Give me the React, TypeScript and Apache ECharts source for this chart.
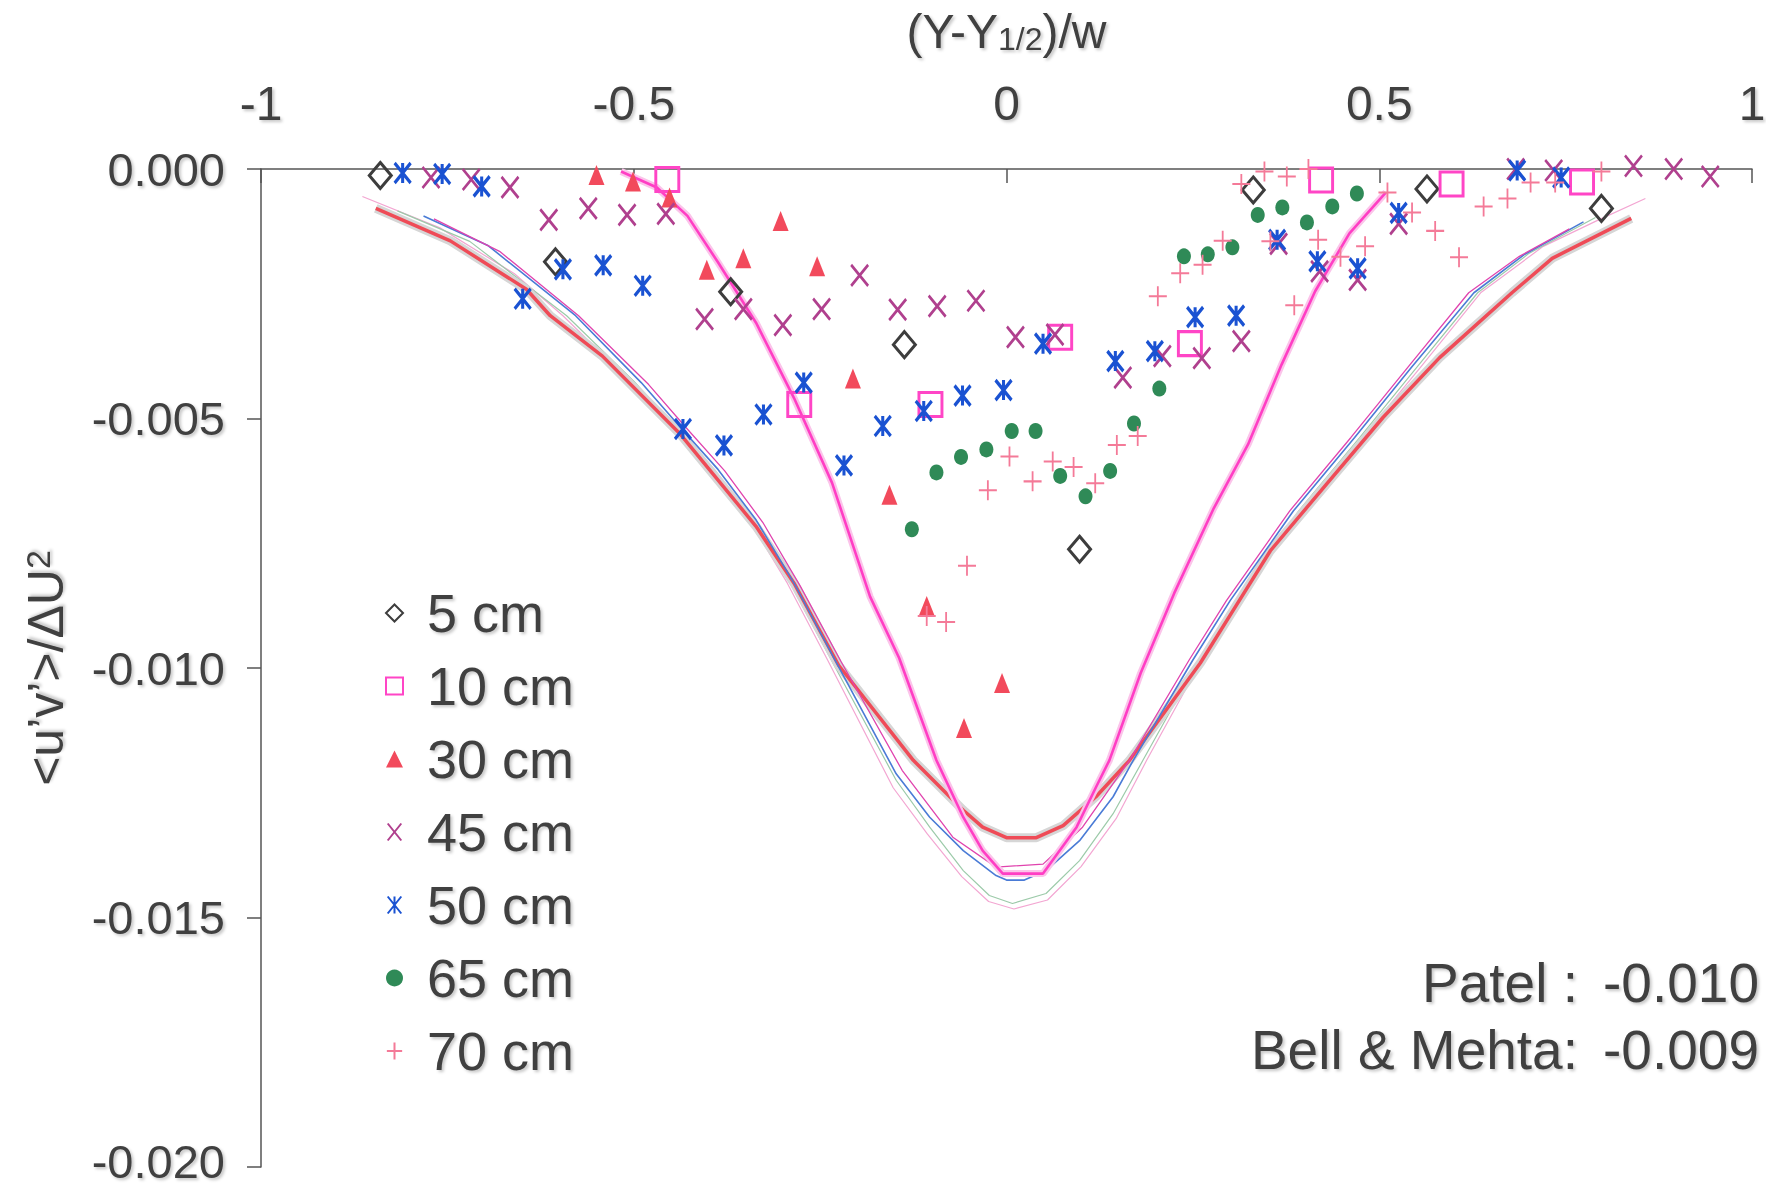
import React, { useEffect, useRef } from "react";
import * as echarts from "echarts";

const FONT = '"Liberation Sans", Arial, Helvetica, sans-serif';
const TEXT = "#414141";

// axis scales
const X_MIN = -1;
const X_MAX = 1;
const X_STEP = 0.5;
const Y_MIN = -0.02;
const Y_MAX = 0;
const Y_STEP = 0.005;

const LEGEND_NAMES = ["5 cm", "10 cm", "30 cm", "45 cm", "50 cm", "65 cm", "70 cm"];

// ---- measured points ----
const X_5 = [-0.84, -0.605, -0.37, -0.137, 0.098, 0.331, 0.564, 0.798];
const Y_5 = [-0.00013, -0.00186, -0.00246, -0.00352, -0.00762, -0.00042, -0.0004, -0.00079];

const X_10 = [-0.455, -0.278, -0.102, 0.072, 0.246, 0.422, 0.597, 0.772];
const Y_10 = [-0.00021, -0.00472, -0.00472, -0.00337, -0.0035, -0.00022, -0.0003, -0.00026];

const X_30 = [-0.55, -0.501, -0.452, -0.402, -0.353, -0.303, -0.254, -0.206, -0.157, -0.107, -0.057, -0.006];
const Y_30 = [-0.00012, -0.00025, -0.00057, -0.00202, -0.00179, -0.00104, -0.00195, -0.0042, -0.00653, -0.00876, -0.0112, -0.0103];

const X_45 = [-0.772, -0.718, -0.666, -0.614, -0.561, -0.509, -0.457, -0.405, -0.353, -0.3, -0.248, -0.197,
  -0.146, -0.093, -0.041, 0.012, 0.065, 0.156, 0.209, 0.262, 0.315, 0.365, 0.42, 0.471, 0.526, 0.683, 0.734,
  0.841, 0.895, 0.944];
const Y_45 = [-0.00017, -0.00021, -0.00037, -0.00102, -0.00079, -0.00092, -0.0009, -0.00301, -0.00281, -0.00313,
  -0.00281, -0.00213, -0.00282, -0.00275, -0.00264, -0.00337, -0.00332, -0.00418, -0.00375, -0.00379, -0.00345,
  -0.0015, -0.00205, -0.00222, -0.0011, 0.0, -0.00003, 0.00006, 0.0, -0.00015];

const X_50 = [-0.81, -0.757, -0.704, -0.649, -0.595, -0.541, -0.488, -0.434, -0.379, -0.326, -0.272, -0.218,
  -0.166, -0.111, -0.059, -0.004, 0.049, 0.146, 0.199, 0.253, 0.308, 0.363, 0.417, 0.471, 0.526, 0.685, 0.744];
const Y_50 = [-0.00008, -0.0001, -0.00035, -0.0026, -0.00201, -0.00193, -0.00234, -0.00521, -0.00554, -0.00492,
  -0.00428, -0.00594, -0.00515, -0.00485, -0.00454, -0.00443, -0.0035, -0.00385, -0.00365, -0.00297, -0.00294,
  -0.00142, -0.00185, -0.00199, -0.00088, -0.00003, -0.00017];

const X_65 = [-0.127, -0.094, -0.061, -0.027, 0.007, 0.039, 0.072, 0.106, 0.139, 0.171, 0.205, 0.238, 0.27,
  0.303, 0.337, 0.37, 0.403, 0.437, 0.47];
const Y_65 = [-0.00722, -0.00608, -0.00577, -0.00562, -0.00525, -0.00525, -0.00615, -0.00656, -0.00605, -0.0051,
  -0.0044, -0.00175, -0.00171, -0.00157, -0.00092, -0.00077, -0.00107, -0.00075, -0.00049];

const X_70 = [-0.107, -0.081, -0.053, -0.025, 0.004, 0.035, 0.062, 0.09, 0.119, 0.148, 0.176, 0.203, 0.233,
  0.263, 0.29, 0.315, 0.346, 0.354, 0.376, 0.386, 0.405, 0.418, 0.448, 0.481, 0.511, 0.544, 0.575, 0.607, 0.64,
  0.672, 0.703, 0.736, 0.798];
const Y_70 = [-0.00896, -0.00908, -0.00795, -0.00644, -0.00576, -0.00626, -0.00586, -0.00597, -0.0063, -0.00553,
  -0.00535, -0.00255, -0.00209, -0.00192, -0.00144, -0.0003, -0.00005, -0.00145, -0.00015, -0.00273, 0.0,
  -0.00142, -0.00176, -0.00155, -0.00047, -0.00087, -0.00124, -0.00177, -0.00075, -0.00059, -0.00027, -0.00027,
  -0.00005];

// ---- model curves ----
const NARROW_X = [-0.517, -0.469, -0.428, -0.387, -0.336, -0.285, -0.234, -0.183, -0.144, -0.094, -0.058, -0.032,
  -0.005, 0.049, 0.094, 0.12, 0.138, 0.18, 0.225, 0.278, 0.324, 0.369, 0.414, 0.46, 0.509];
const NARROW_Y = [-0.00005, -0.00037, -0.00094, -0.00187, -0.00308, -0.00459, -0.00629, -0.00857, -0.0098,
  -0.01185, -0.01299, -0.01366, -0.01412, -0.01412, -0.01319, -0.01239, -0.01185, -0.0101, -0.0085, -0.0068,
  -0.00552, -0.00392, -0.00245, -0.00129, -0.00047];

const RED_X = [-0.846, -0.746, -0.644, -0.612, -0.542, -0.439, -0.336, -0.285, -0.225, -0.125, -0.058, -0.032,
  0.0, 0.04, 0.076, 0.12, 0.165, 0.26, 0.308, 0.354, 0.429, 0.505, 0.581, 0.678, 0.732, 0.838];
const RED_Y = [-0.00079, -0.00144, -0.00241, -0.00294, -0.00375, -0.00529, -0.00716, -0.0083, -0.00995, -0.01185,
  -0.01285, -0.01319, -0.0134, -0.0134, -0.01316, -0.01258, -0.01185, -0.0099, -0.00875, -0.00765, -0.00632,
  -0.00498, -0.00378, -0.00248, -0.00179, -0.00099];

const BLUE_X = [-0.782, -0.695, -0.578, -0.49, -0.439, -0.387, -0.336, -0.285, -0.23, -0.148, -0.103, -0.058,
  -0.014, 0.0, 0.024, 0.053, 0.098, 0.143, 0.17, 0.25, 0.3, 0.385, 0.467, 0.543, 0.627, 0.694, 0.774];
const BLUE_Y = [-0.00094, -0.00154, -0.00294, -0.00428, -0.00515, -0.00602, -0.00703, -0.0083, -0.00984, -0.01212,
  -0.01299, -0.01366, -0.01416, -0.01425, -0.01425, -0.01406, -0.01346, -0.01258, -0.01185, -0.00984, -0.00865,
  -0.00685, -0.00538, -0.00398, -0.00248, -0.00172, -0.00106];

const MAG_X = [-0.768, -0.68, -0.574, -0.48, -0.43, -0.378, -0.327, -0.277, -0.222, -0.14, -0.072, -0.014, 0.049,
  0.102, 0.165, 0.245, 0.295, 0.38, 0.462, 0.538, 0.62, 0.688, 0.755];
const MAG_Y = [-0.001, -0.00165, -0.00294, -0.00432, -0.00518, -0.00605, -0.00708, -0.00835, -0.00987, -0.01205,
  -0.01339, -0.01399, -0.01393, -0.01319, -0.01185, -0.00984, -0.00865, -0.00685, -0.00538, -0.00398, -0.00248,
  -0.00175, -0.0012];

const GREEN_X = [-0.817, -0.72, -0.59, -0.5, -0.445, -0.392, -0.341, -0.29, -0.235, -0.148, -0.103, -0.058, -0.023,
  0.008, 0.053, 0.098, 0.143, 0.183, 0.258, 0.308, 0.392, 0.474, 0.55, 0.632, 0.7, 0.79];
const GREEN_Y = [-0.00084, -0.00145, -0.00294, -0.00425, -0.00515, -0.00602, -0.00703, -0.0083, -0.00984, -0.01225,
  -0.01319, -0.01406, -0.01456, -0.01472, -0.01452, -0.01386, -0.01292, -0.01185, -0.00984, -0.00865, -0.00685,
  -0.00538, -0.00398, -0.00248, -0.0017, -0.00097];

const PINK_X = [-0.864, -0.76, -0.66, -0.595, -0.505, -0.45, -0.396, -0.345, -0.294, -0.24, -0.152, -0.106, -0.06,
  -0.024, 0.01, 0.055, 0.1, 0.147, 0.188, 0.262, 0.312, 0.396, 0.478, 0.555, 0.636, 0.72, 0.79, 0.857];
const PINK_Y = [-0.00055, -0.00118, -0.0021, -0.00294, -0.00425, -0.00515, -0.00602, -0.00703, -0.0083, -0.00984,
  -0.0124, -0.01333, -0.01418, -0.01468, -0.01483, -0.01465, -0.01398, -0.01302, -0.01185, -0.00984, -0.00865,
  -0.00685, -0.00538, -0.00398, -0.00248, -0.00155, -0.00105, -0.00059];

const NOTE_LABELS = ["Patel :", "Bell & Mehta:"];
const NOTE_VALUES = ["-0.010", "-0.009"];

const zip = (xs: number[], ys: number[]) => xs.map((x, i) => [x, ys[i]]);

const X_PATH = "path://M0,0L16,20M16,0L0,20";
const AST_PATH = "path://M0,0L16,20M16,0L0,20M8,0L8,20";
const PLUS_PATH = "path://M9,0L9,20M0,10L18,10";

const textShadow = {
  textShadowColor: "rgba(0,0,0,0.22)",
  textShadowBlur: 3,
  textShadowOffsetX: 2,
  textShadowOffsetY: 2,
};

export default function App() {
  const ref = useRef<HTMLDivElement>(null);

  useEffect(() => {
    if (!ref.current) return;
    const chart = echarts.init(ref.current, undefined, { renderer: "svg" });

    const markers = [
      { name: "5 cm", xs: X_5, ys: Y_5, symbol: "diamond", size: [22, 26], fill: "rgba(255,255,255,0)", stroke: "#3d3d3d", bw: 3 },
      { name: "10 cm", xs: X_10, ys: Y_10, symbol: "rect", size: [23, 24], fill: "rgba(255,255,255,0)", stroke: "#ff45c6", bw: 3 },
      { name: "30 cm", xs: X_30, ys: Y_30, symbol: "triangle", size: [16, 20], fill: "#f24a5c", stroke: "#f24a5c", bw: 0 },
      { name: "45 cm", xs: X_45, ys: Y_45, symbol: X_PATH, size: [17, 21], fill: "#b0408e", stroke: "#b0408e", bw: 2.8 },
      { name: "50 cm", xs: X_50, ys: Y_50, symbol: AST_PATH, size: [16, 20], fill: "#1a52d2", stroke: "#1a52d2", bw: 3.4 },
      { name: "65 cm", xs: X_65, ys: Y_65, symbol: "circle", size: [14, 16], fill: "#2f8a57", stroke: "#2f8a57", bw: 0 },
      { name: "70 cm", xs: X_70, ys: Y_70, symbol: PLUS_PATH, size: [18, 20], fill: "#f47a98", stroke: "#f47a98", bw: 1.9 },
    ];

    const curves = [
      { xs: PINK_X, ys: PINK_Y, color: "#f3a6d2", width: 1.2 },
      { xs: GREEN_X, ys: GREEN_Y, color: "#9ccaa9", width: 1.2 },
      { xs: RED_X, ys: RED_Y, color: "#d6d6d6", width: 9 },
      { xs: RED_X, ys: RED_Y, color: "#ef4b57", width: 3.5 },
      { xs: BLUE_X, ys: BLUE_Y, color: "#4a7bd6", width: 1.6 },
      { xs: MAG_X, ys: MAG_Y, color: "#e043ae", width: 1.3 },
      { xs: NARROW_X, ys: NARROW_Y, color: "#fbc4ea", width: 7 },
      { xs: NARROW_X, ys: NARROW_Y, color: "#ff3ec4", width: 2.6 },
    ];

    const series: any[] = [];
    curves.forEach((c) => {
      series.push({
        type: "line",
        data: zip(c.xs, c.ys),
        symbol: "none",
        silent: true,
        clip: false,
        z: 2,
        lineStyle: { color: c.color, width: c.width },
      });
    });
    markers.forEach((m) => {
      series.push({
        type: "scatter",
        name: m.name,
        data: zip(m.xs, m.ys),
        symbol: m.symbol,
        symbolSize: m.size,
        clip: false,
        silent: true,
        z: 3,
        itemStyle: {
          color: m.fill,
          borderColor: m.stroke,
          borderWidth: m.bw,
          opacity: 1,
        },
      });
    });

    const option: any = {
      animation: false,
      backgroundColor: "#ffffff",
      grid: { left: 261, right: 14, top: 169, bottom: 22, containLabel: false, outerBoundsMode: "none" },
      xAxis: {
        type: "value",
        position: "top",
        min: X_MIN,
        max: X_MAX,
        interval: X_STEP,
        name: "{a|(Y-Y}{s|1/2}{a|)/w}",
        nameLocation: "middle",
        nameGap: 114,
        nameTextStyle: {
          rich: {
            a: { fontSize: 48, lineHeight: 48, fontFamily: FONT, color: TEXT, verticalAlign: "bottom", ...textShadow },
            s: { fontSize: 32, lineHeight: 4, fontFamily: FONT, color: TEXT, verticalAlign: "bottom", ...textShadow },
          },
        },
        axisLine: { show: true, onZero: false, lineStyle: { color: "#555", width: 1.5 } },
        axisTick: { show: true, inside: true, length: 14, lineStyle: { color: "#555", width: 1.5 } },
        axisLabel: { margin: 42, fontSize: 48, fontFamily: FONT, color: TEXT, ...textShadow },
        splitLine: { show: false },
      },
      yAxis: {
        type: "value",
        min: Y_MIN,
        max: Y_MAX,
        interval: Y_STEP,
        name: "{a|<u’v’>/ΔU}{p|2}",
        nameLocation: "middle",
        nameRotate: 90,
        nameGap: 190,
        nameTextStyle: {
          rich: {
            a: { fontSize: 50, lineHeight: 50, fontFamily: FONT, color: TEXT, verticalAlign: "top", ...textShadow },
            p: { fontSize: 34, lineHeight: 6, fontFamily: FONT, color: TEXT, verticalAlign: "top", ...textShadow },
          },
        },
        axisLine: { show: true, onZero: false, lineStyle: { color: "#555", width: 1.5 } },
        axisTick: { show: true, inside: false, length: 14, lineStyle: { color: "#555", width: 1.5 } },
        axisLabel: {
          margin: 36,
          fontSize: 47,
          fontFamily: FONT,
          color: TEXT,
          formatter: (v: number) => {
            const s = v.toFixed(3);
            return Math.abs(v - Y_MIN) < 1e-9 ? "{b|" + s + "}" : s;
          },
          rich: {
            b: {
              fontSize: 47,
              lineHeight: 40,
              padding: [0, 0, 12, 0],
              fontFamily: FONT,
              color: TEXT,
              ...textShadow,
            },
          },
          ...textShadow,
        },
        splitLine: { show: false },
      },
      legend: {
        data: LEGEND_NAMES,
        orient: "vertical",
        left: 380,
        top: 581,
        itemWidth: 17,
        itemHeight: 17,
        itemGap: 19,
        selectedMode: false,
        textStyle: {
          fontSize: 54,
          lineHeight: 54,
          fontFamily: FONT,
          color: TEXT,
          padding: [0, 0, 0, 19],
          ...textShadow,
        },
      },
      graphic: [
        ...NOTE_LABELS.map((t, i) => ({
          type: "text",
          x: 1578,
          y: 983 + i * 67,
          style: {
            text: t,
            fill: TEXT,
            fontSize: 55,
            fontFamily: FONT,
            align: "right",
            verticalAlign: "middle",
            ...textShadow,
          },
        })),
        ...NOTE_VALUES.map((t, i) => ({
          type: "text",
          x: 1759,
          y: 983 + i * 67,
          style: {
            text: t,
            fill: TEXT,
            fontSize: 55,
            fontFamily: FONT,
            align: "right",
            verticalAlign: "middle",
            ...textShadow,
          },
        })),
      ],
      series,
    };

    chart.setOption(option);
    return () => chart.dispose();
  }, []);

  return (
    <div
      ref={ref}
      style={{ position: "fixed", left: 0, top: 0, width: 1766, height: 1189, background: "#fff" }}
    />
  );
}
